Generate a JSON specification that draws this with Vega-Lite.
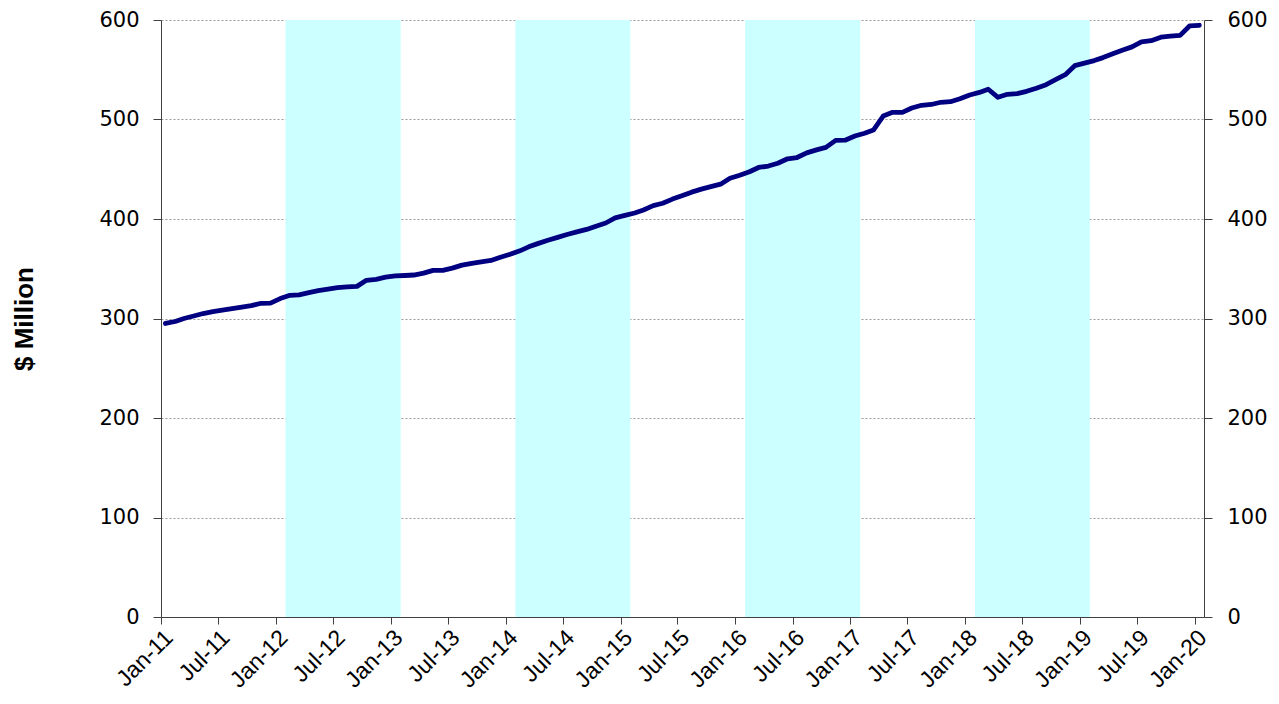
{
  "$schema": "https://vega.github.io/schema/vega-lite/v6.json",
  "autosize": "none",
  "width": 1043,
  "height": 597,
  "padding": {"left": 161, "top": 20, "right": 75, "bottom": 87},
  "background": "white",
  "config": {
    "view": {"stroke": null},
    "axis": {"labelFont": "DejaVu Sans", "titleFont": "Liberation Sans", "labelColor": "#000000", "titleColor": "#000000", "domainColor": "#404040", "tickColor": "#404040"}
  },
  "datasets": {
    "bands": [
      {"start": "2012-02-01", "end": "2013-02-01"},
      {"start": "2014-02-01", "end": "2015-02-01"},
      {"start": "2016-02-01", "end": "2017-02-01"},
      {"start": "2018-02-01", "end": "2019-02-01"}
    ],
    "series": [
      {"date": "2011-01-15", "value": 295}, {"date": "2011-02-15", "value": 297}, {"date": "2011-03-15", "value": 300},
      {"date": "2011-04-15", "value": 302.5}, {"date": "2011-05-15", "value": 305}, {"date": "2011-06-15", "value": 307},
      {"date": "2011-07-15", "value": 308.5}, {"date": "2011-08-15", "value": 310}, {"date": "2011-09-15", "value": 311.5},
      {"date": "2011-10-15", "value": 313}, {"date": "2011-11-15", "value": 315.3}, {"date": "2011-12-15", "value": 315.5},
      {"date": "2012-01-15", "value": 320}, {"date": "2012-02-15", "value": 323.3}, {"date": "2012-03-15", "value": 323.7},
      {"date": "2012-04-15", "value": 326}, {"date": "2012-05-15", "value": 328}, {"date": "2012-06-15", "value": 329.5},
      {"date": "2012-07-15", "value": 331}, {"date": "2012-08-15", "value": 331.8}, {"date": "2012-09-15", "value": 332.3},
      {"date": "2012-10-15", "value": 338.4}, {"date": "2012-11-15", "value": 339.4}, {"date": "2012-12-15", "value": 341.5},
      {"date": "2013-01-15", "value": 342.8}, {"date": "2013-02-15", "value": 343.2}, {"date": "2013-03-15", "value": 343.7},
      {"date": "2013-04-15", "value": 345.6}, {"date": "2013-05-15", "value": 348.4}, {"date": "2013-06-15", "value": 348.4},
      {"date": "2013-07-15", "value": 350.6}, {"date": "2013-08-15", "value": 353.6}, {"date": "2013-09-15", "value": 355.5},
      {"date": "2013-10-15", "value": 357}, {"date": "2013-11-15", "value": 358.3}, {"date": "2013-12-15", "value": 361.5},
      {"date": "2014-01-15", "value": 364.5}, {"date": "2014-02-15", "value": 368}, {"date": "2014-03-15", "value": 372},
      {"date": "2014-04-15", "value": 375.5}, {"date": "2014-05-15", "value": 378.6}, {"date": "2014-06-15", "value": 381.5},
      {"date": "2014-07-15", "value": 384.4}, {"date": "2014-08-15", "value": 387}, {"date": "2014-09-15", "value": 389.5},
      {"date": "2014-10-15", "value": 392.8}, {"date": "2014-11-15", "value": 396}, {"date": "2014-12-15", "value": 401.2},
      {"date": "2015-01-15", "value": 403.6}, {"date": "2015-02-15", "value": 406}, {"date": "2015-03-15", "value": 409},
      {"date": "2015-04-15", "value": 413.5}, {"date": "2015-05-15", "value": 415.8}, {"date": "2015-06-15", "value": 420},
      {"date": "2015-07-15", "value": 423.3}, {"date": "2015-08-15", "value": 427}, {"date": "2015-09-15", "value": 430},
      {"date": "2015-10-15", "value": 432.5}, {"date": "2015-11-15", "value": 435}, {"date": "2015-12-15", "value": 441},
      {"date": "2016-01-15", "value": 444}, {"date": "2016-02-15", "value": 447.5}, {"date": "2016-03-15", "value": 451.8},
      {"date": "2016-04-15", "value": 453.2}, {"date": "2016-05-15", "value": 456}, {"date": "2016-06-15", "value": 460.5},
      {"date": "2016-07-15", "value": 461.8}, {"date": "2016-08-15", "value": 466.5}, {"date": "2016-09-15", "value": 469.5},
      {"date": "2016-10-15", "value": 472}, {"date": "2016-11-15", "value": 479}, {"date": "2016-12-15", "value": 479.2},
      {"date": "2017-01-15", "value": 483.4}, {"date": "2017-02-15", "value": 486.2}, {"date": "2017-03-15", "value": 489.4},
      {"date": "2017-04-15", "value": 503.5}, {"date": "2017-05-15", "value": 507.2}, {"date": "2017-06-15", "value": 507.2},
      {"date": "2017-07-15", "value": 511.5}, {"date": "2017-08-15", "value": 514.3}, {"date": "2017-09-15", "value": 515.1},
      {"date": "2017-10-15", "value": 517.3}, {"date": "2017-11-15", "value": 517.9}, {"date": "2017-12-15", "value": 520.8},
      {"date": "2018-01-15", "value": 524.6}, {"date": "2018-02-15", "value": 527.2}, {"date": "2018-03-15", "value": 530.4},
      {"date": "2018-04-15", "value": 522.3}, {"date": "2018-05-15", "value": 525.3}, {"date": "2018-06-15", "value": 526},
      {"date": "2018-07-15", "value": 528.3}, {"date": "2018-08-15", "value": 531.5}, {"date": "2018-09-15", "value": 535},
      {"date": "2018-10-15", "value": 540}, {"date": "2018-11-15", "value": 545}, {"date": "2018-12-15", "value": 554.1},
      {"date": "2019-01-15", "value": 556.6}, {"date": "2019-02-15", "value": 559.2}, {"date": "2019-03-15", "value": 562.2},
      {"date": "2019-04-15", "value": 566}, {"date": "2019-05-15", "value": 569.6}, {"date": "2019-06-15", "value": 573},
      {"date": "2019-07-15", "value": 578}, {"date": "2019-08-15", "value": 579.2}, {"date": "2019-09-15", "value": 582.7},
      {"date": "2019-10-15", "value": 583.8}, {"date": "2019-11-15", "value": 584.5}, {"date": "2019-12-15", "value": 594},
      {"date": "2020-01-15", "value": 594.7}
    ]
  },
  "resolve": {"scale": {"y": "shared", "x": "shared"}, "axis": {"y": "independent"}},
  "layer": [
    {
      "data": {"name": "bands"},
      "mark": {"type": "rect", "color": "#CCFFFF"},
      "encoding": {
        "x": {"field": "start", "type": "temporal",
          "scale": {"domain": ["2011-01-01", "2020-01-30"], "nice": false},
          "axis": {"format": "%b-%y", "tickCount": {"interval": "month", "step": 6}, "labelAngle": -45, "labelFont": "Liberation Sans", "labelFontSize": 23, "labelOverlap": false, "labelFlush": false, "labelBound": false, "grid": false, "tickSize": 7, "labelPadding": 2, "title": null}},
        "x2": {"field": "end"}
      }
    },
    {
      "data": {"name": "series"},
      "mark": {"type": "line", "color": "#000080", "strokeWidth": 4.8, "strokeJoin": "round", "strokeCap": "round"},
      "encoding": {
        "x": {"field": "date", "type": "temporal"},
        "y": {"field": "value", "type": "quantitative",
          "scale": {"domain": [0, 600], "nice": false, "zero": true},
          "axis": {"orient": "left", "values": [0, 100, 200, 300, 400, 500, 600], "labelFontSize": 21, "tickSize": 8, "labelPadding": 14, "grid": true, "gridColor": "#9a9a9a", "gridDash": [2, 2], "gridWidth": 1, "title": "$ Million", "titleFontSize": 26, "titleFontWeight": "bold", "titlePadding": 61}}
      }
    },
    {
      "data": {"name": "series"},
      "mark": {"type": "line", "strokeOpacity": 0},
      "encoding": {
        "x": {"field": "date", "type": "temporal"},
        "y": {"field": "value", "type": "quantitative",
          "axis": {"orient": "right", "values": [0, 100, 200, 300, 400, 500, 600], "labelFontSize": 21, "tickSize": 8, "labelPadding": 15, "grid": false, "title": null}}
      }
    }
  ]
}
